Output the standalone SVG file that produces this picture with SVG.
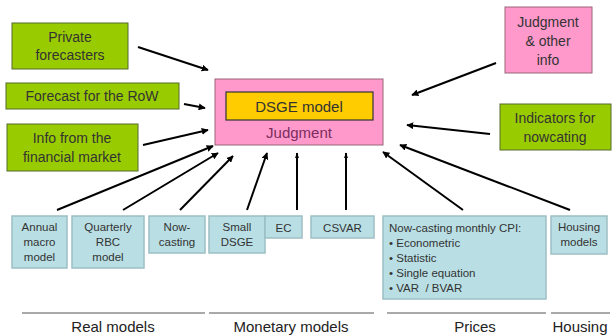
<svg xmlns="http://www.w3.org/2000/svg" width="612" height="335" viewBox="0 0 612 335">
<defs>
<marker id="ah" viewBox="0 0 10 10" refX="9" refY="5" markerWidth="7" markerHeight="7" markerUnits="userSpaceOnUse" orient="auto"><path d="M0,0 L10,5 L0,10 z" fill="#000"/></marker>
<marker id="ahs" viewBox="0 0 10 10" refX="9" refY="5" markerWidth="6" markerHeight="6" markerUnits="userSpaceOnUse" orient="auto"><path d="M0,1.5 L10,5 L0,8.5 z" fill="#000"/></marker>
</defs>
<style>
text{font-family:"Liberation Sans",Arial,sans-serif;text-anchor:middle}
.g{fill:#99cc00;stroke:#556b2f;stroke-width:1}
.gt{font-size:14px;fill:#333}
.p{fill:#ff99cc;stroke:#996677;stroke-width:1}
.b{fill:#b9dfe4;stroke:#9cbfc4;stroke-width:1.5}
.bt{font-size:11.5px;fill:#333}
.c{stroke:#000;stroke-width:2;fill:none;marker-end:url(#ah)}
.cs{stroke:#000;stroke-width:2;fill:none;marker-end:url(#ahs)}
.ax{stroke:#555;stroke-width:1}
.lt{font-size:15px;fill:#222}
</style>
<rect width="612" height="335" fill="#fff"/>
<g id="private"><rect class="g" x="12" y="23" width="116" height="46"/><text class="gt" x="70" y="42">Private</text><text class="gt" x="70" y="60">forecasters</text></g>
<g id="row"><rect class="g" x="6" y="83" width="173" height="26"/><text class="gt" x="92" y="101">Forecast for the RoW</text></g>
<g id="financial"><rect class="g" x="7" y="124" width="131" height="47"/><text class="gt" x="72" y="143">Info from the</text><text class="gt" x="72" y="162">financial market</text></g>
<g id="dsge"><rect class="p" x="215" y="79" width="168" height="66"/><rect x="226" y="92" width="147" height="28" fill="#ffcc00" stroke="#333" stroke-width="1.2"/><text x="299" y="112" font-size="15" fill="#333">DSGE model</text><text x="299" y="138" font-size="15" fill="#7a2d5e">Judgment</text></g>
<g id="judgment"><rect class="p" x="505" y="7" width="87" height="66"/><text class="gt" x="548" y="27">Judgment</text><text class="gt" x="548" y="46">&amp; other</text><text class="gt" x="548" y="65">info</text></g>
<g id="indicators"><rect class="g" x="500" y="104" width="111" height="46"/><text class="gt" x="555" y="123">Indicators for</text><text class="gt" x="555" y="142">nowcating</text></g>
<g id="annual"><rect class="b" x="12" y="216" width="55" height="52"/><text class="bt" x="39.5" y="231">Annual</text><text class="bt" x="39.5" y="246">macro</text><text class="bt" x="39.5" y="261">model</text></g>
<g id="quarterly"><rect class="b" x="72" y="216" width="72" height="52"/><text class="bt" x="108" y="231">Quarterly</text><text class="bt" x="108" y="246">RBC</text><text class="bt" x="108" y="261">model</text></g>
<g id="nowcasting"><rect class="b" x="149" y="216" width="56" height="37"/><text class="bt" x="177" y="231">Now-</text><text class="bt" x="177" y="246">casting</text></g>
<g id="smalldsge"><rect class="b" x="209" y="216" width="56" height="37"/><text class="bt" x="237" y="231">Small</text><text class="bt" x="237" y="246">DSGE</text></g>
<g id="ec"><rect class="b" x="265" y="216" width="37" height="22"/><text class="bt" x="283.5" y="232">EC</text></g>
<g id="csvar"><rect class="b" x="311" y="216" width="63" height="22"/><text class="bt" x="342.5" y="232">CSVAR</text></g>
<g id="cpi"><rect class="b" x="383" y="216" width="163" height="83"/><text class="bt" x="389" y="232" style="text-anchor:start">Now-casting monthly CPI:</text><text class="bt" x="389" y="247" style="text-anchor:start">• Econometric</text><text class="bt" x="389" y="262" style="text-anchor:start">• Statistic</text><text class="bt" x="389" y="277" style="text-anchor:start">• Single equation</text><text class="bt" x="389" y="292" style="text-anchor:start" xml:space="preserve">• VAR  / BVAR</text></g>
<g id="housing"><rect class="b" x="551" y="216" width="56" height="38"/><text class="bt" x="579" y="231">Housing</text><text class="bt" x="579" y="246">models</text></g>
<g id="connectors">
<line class="c" x1="138" y1="47" x2="208" y2="70"/>
<line class="c" x1="184" y1="104" x2="205" y2="108"/>
<line class="c" x1="143" y1="145" x2="208" y2="130"/>
<line class="c" x1="57" y1="210" x2="213" y2="146"/>
<line class="c" x1="123" y1="210" x2="218" y2="153"/>
<line class="c" x1="180" y1="210" x2="233" y2="156"/>
<line class="c" x1="247" y1="210" x2="267" y2="153"/>
<line class="cs" x1="297" y1="210" x2="297" y2="153"/>
<line class="cs" x1="346" y1="210" x2="346" y2="153"/>
<line class="c" x1="463" y1="210" x2="383" y2="152"/>
<line class="c" x1="570" y1="210" x2="400" y2="145"/>
<line class="c" x1="496" y1="63" x2="412" y2="95"/>
<line class="c" x1="490" y1="134" x2="407" y2="125"/>
</g>
<g id="axis">
<line class="ax" x1="22" y1="313" x2="205" y2="313"/>
<line class="ax" x1="209" y1="313" x2="374" y2="313"/>
<line class="ax" x1="387" y1="313" x2="546" y2="313"/>
<line class="ax" x1="551" y1="313" x2="610" y2="313"/>
<text class="lt" x="113" y="332">Real models</text>
<text class="lt" x="291" y="332">Monetary models</text>
<text class="lt" x="475" y="332">Prices</text>
<text class="lt" x="580" y="332">Housing</text>
</g>
</svg>
